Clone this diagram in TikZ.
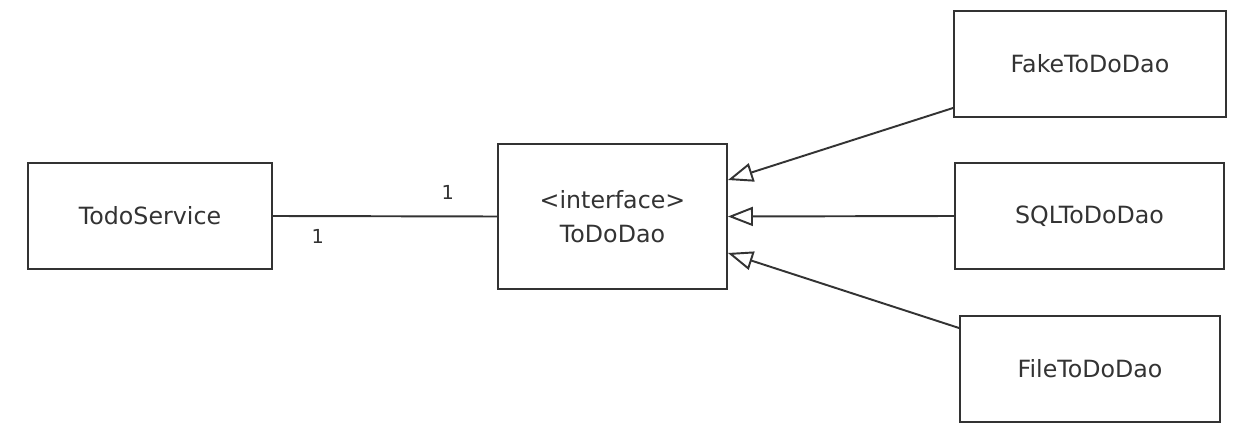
\documentclass[tikz,border=0pt]{standalone}
\usepackage{fontspec}
\setmainfont{DejaVu Sans}
\usepackage{xcolor}
\usetikzlibrary{arrows.meta}
\definecolor{umlgray}{HTML}{333333}

\begin{document}
\begin{tikzpicture}[x=0.02cm,y=-0.02cm,
	cls/.style={draw=umlgray,line width=1.1pt,text=umlgray,font=\fontsize{13.5}{19}\selectfont,align=center,inner sep=0pt,minimum height=2.12cm},
	impl/.style={draw=umlgray,line width=1.1pt,-{Triangle[open,length=0.5cm,width=0.38cm]}}]
	\useasboundingbox (0,0) rectangle (1242,442);
	\node[cls,minimum width=4.88cm] (S) at (150,216) {TodoService};
	\node[cls,minimum width=4.58cm,minimum height=2.9cm] (D) at (612.5,216.5) {<interface>\\ToDoDao};
	\node[cls,minimum width=5.44cm] (F) at (1090,64) {FakeToDoDao};
	\node[cls,minimum width=5.38cm] (Q) at (1089.5,216) {SQLToDoDao};
	\node[cls,minimum width=5.2cm] (L) at (1090,369) {FileToDoDao};
	%
	\path[draw=umlgray,line width=1.1pt,text=umlgray,font=\fontsize{11}{13}\selectfont]
	(S.east) -- node[pos=0.2,below=0.12cm]{1} node[pos=0.78,above=0.2cm]{1} (D.west);
	\path
	([yshift=-0.88cm]F.west) edge[impl] ([yshift=0.73cm]D.east)
	(Q.west) edge[impl] (D.east)
	([yshift=0.82cm]L.west) edge[impl] ([yshift=-0.73cm]D.east);
\end{tikzpicture}
\end{document}
